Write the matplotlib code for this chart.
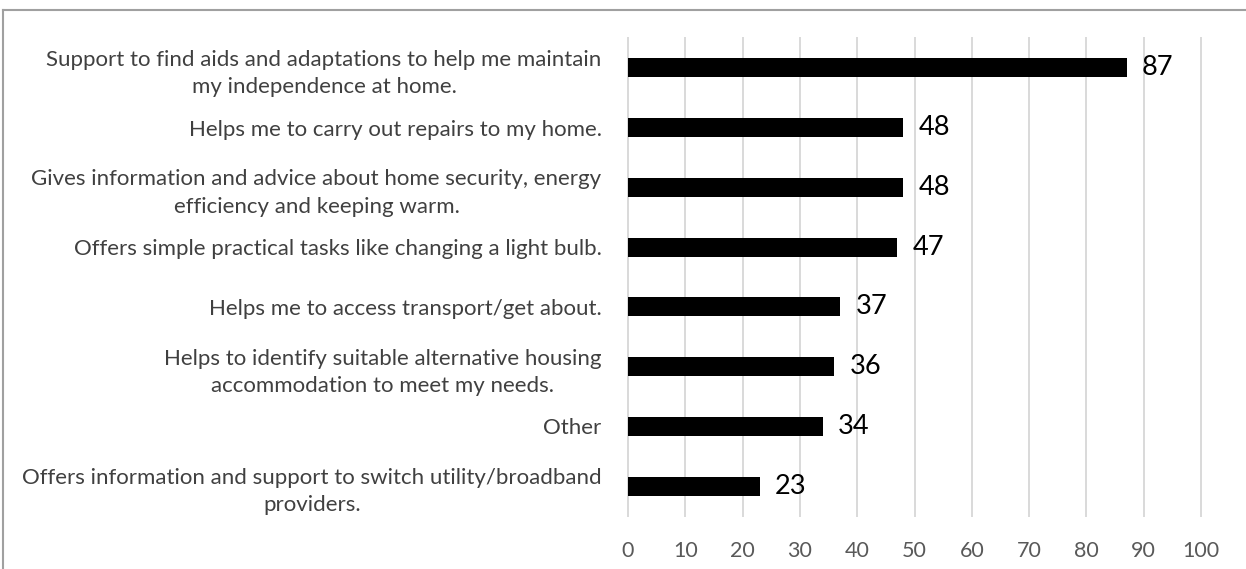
import matplotlib.pyplot as plt
from matplotlib.lines import Line2D

# Survey responses, top to bottom
categories = [
    'Support to find aids and adaptations to help me maintain\nmy independence at home.',
    'Helps me to carry out repairs to my home.',
    'Gives information and advice about home security, energy\nefficiency and keeping warm.',
    'Offers simple practical tasks like changing a light bulb.',
    'Helps me to access transport/get about.',
    'Helps to identify suitable alternative housing\naccommodation to meet my needs.',
    'Other',
    'Offers information and support to switch utility/broadband\nproviders.',
]
counts = [87, 48, 48, 47, 37, 36, 34, 23]
x_ticks = list(range(0, 101, 10))

plt.rcParams['font.family'] = ['Lato', 'DejaVu Sans']

fig = plt.figure(figsize=(12.46, 5.69), dpi=100)
ax = fig.add_axes([0.504, 0.0931, 0.4599, 0.8401])

pos = list(range(len(categories)))
bars = ax.barh(pos, counts, height=0.32, color='black', zorder=3)

ax.set_xlim(0, 100)
ax.set_ylim(len(categories) - 0.5, -0.5)
ax.set_xticks(x_ticks)
ax.set_yticks(pos)
ax.set_yticklabels(categories, multialignment='center', linespacing=1.45)

ax.grid(axis='x', color='#d9d9d9', linewidth=1.4)
ax.set_axisbelow(True)
for gl in ax.get_xgridlines():
    gl.set_clip_on(False)
for s in ax.spines.values():
    s.set_visible(False)

ax.tick_params(length=0)
ax.tick_params(axis='x', labelsize=15.5, labelcolor='#595959', pad=18)
ax.tick_params(axis='y', labelsize=16, labelcolor='#404040', pad=19)

ax.bar_label(bars, padding=11, fontsize=19.5, color='black')

# outer chart frame (only top and left edges fall inside the image)
fig.add_artist(Line2D([3 / 1246, 1], [1 - 10 / 569] * 2, color='#a0a0a0', linewidth=1.5))
fig.add_artist(Line2D([3 / 1246] * 2, [0, 1 - 10 / 569], color='#a0a0a0', linewidth=1.5))

plt.savefig('out.png', dpi=100)
plt.close()
